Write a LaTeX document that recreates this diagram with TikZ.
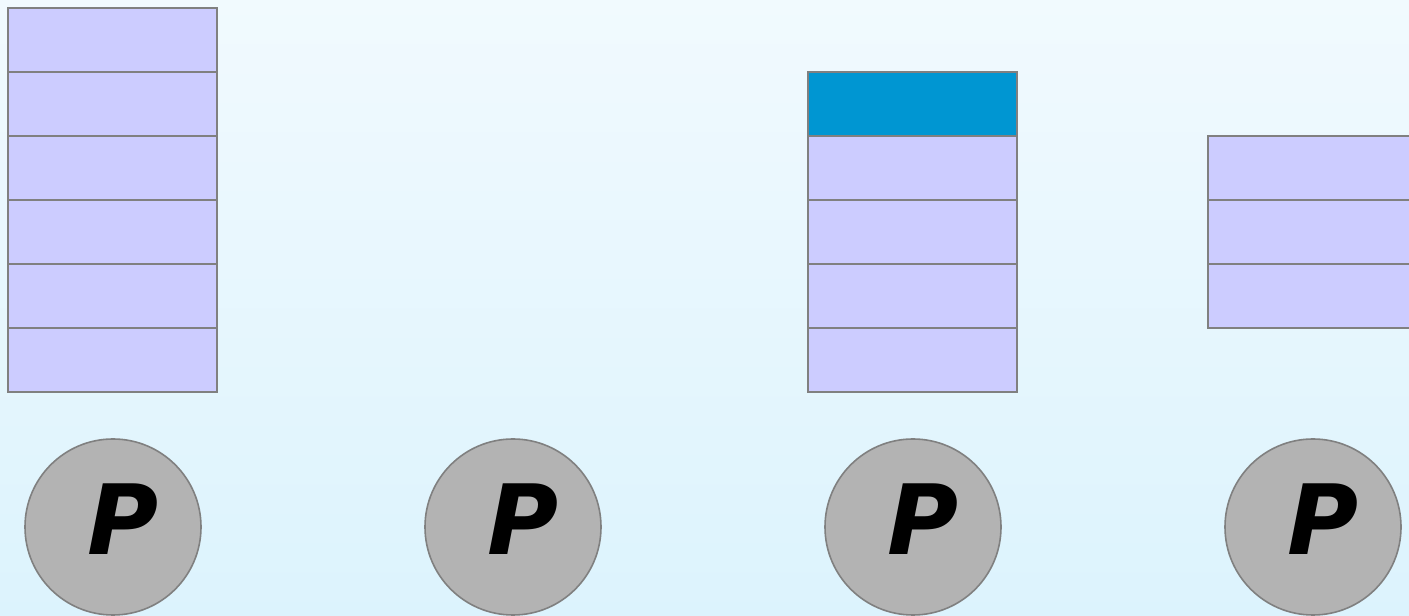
\documentclass[tikz,border=0pt]{standalone}
\usepackage{fontspec}
\setsansfont{DejaVu Sans}
\usepackage{xcolor}
\definecolor{EdgeGray}{HTML}{808080}
\definecolor{CellLav}{HTML}{CCCCFF}
\definecolor{CellBlue}{HTML}{0096D2}
\definecolor{ProcGray}{HTML}{B3B3B3}
\definecolor{SkyTop}{HTML}{F1FAFE}
\definecolor{SkyBot}{HTML}{DCF3FD}
\usetikzlibrary{positioning}

\tikzset{
  cell/.style={draw=EdgeGray, line width=2pt, fill=CellLav, minimum width=209pt,
    minimum height=64pt, inner sep=0pt, outer sep=0pt},
  topcell/.style={cell, fill=CellBlue},
  proc/.style={circle, draw=EdgeGray, line width=1.6pt, fill=ProcGray, minimum size=176pt,
    inner sep=0pt,
    label={[font=\sffamily\bfseries\itshape\fontsize{97}{97}\selectfont,
      xshift=10pt, yshift=8pt]center:P}}
}

\begin{document}
\begin{tikzpicture}[x=1pt, y=1pt]
  \useasboundingbox[bottom color=SkyBot, top color=SkyTop] (0,0) rectangle (1409,616);
  \clip (0,0) rectangle (1409,616);
  % first stack, six cells
  \node[cell] (s1c1) at (112.5,576) {};
  \foreach \i [remember=\i as \j (initially 1)] in {2,...,6}
    \node[cell, below=0pt of s1c\j] (s1c\i) {};
  % third stack, blue one on top
  \node[topcell] (s3c1) at (912.5,512) {};
  \foreach \i [remember=\i as \j (initially 1)] in {2,...,5}
    \node[cell, below=0pt of s3c\j] (s3c\i) {};
  % fourth stack, runs off the edge
  \node[cell] (s4c1) at (1312.5,448) {};
  \foreach \i [remember=\i as \j (initially 1)] in {2,3}
    \node[cell, below=0pt of s4c\j] (s4c\i) {};
  % processors
  \foreach \k/\x in {1/113, 2/513, 3/913, 4/1313}
    \node[proc] (p\k) at (\x,89) {};
\end{tikzpicture}
\end{document}
